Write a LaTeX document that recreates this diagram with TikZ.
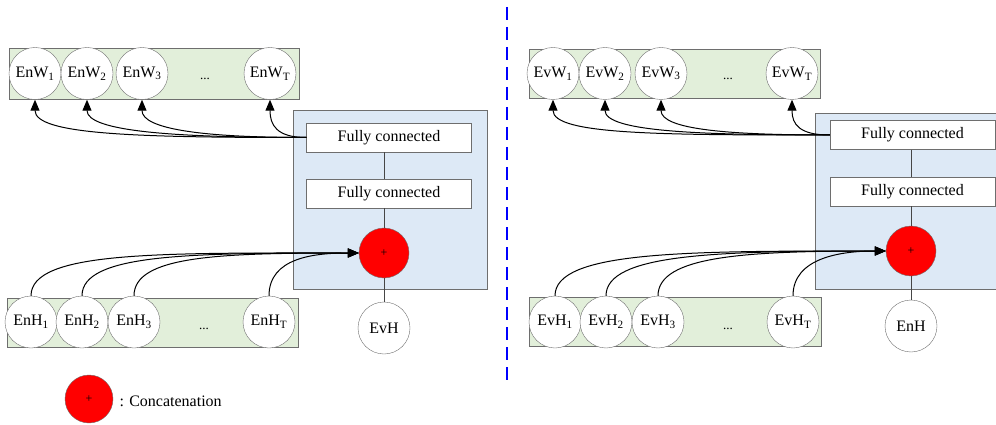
\documentclass[tikz,border=0pt]{standalone}
\usepackage{fontspec}
\setmainfont{Liberation Serif}
\newfontfamily\tnr{Liberation Serif}
\usetikzlibrary{arrows.meta}
\definecolor{bandgreen}{RGB}{226,239,218}
\definecolor{panelblue}{RGB}{221,233,246}
\definecolor{edgegray}{RGB}{110,110,110}
\definecolor{wiregray}{RGB}{70,70,70}

\begin{document}
\begin{tikzpicture}[x=1pt,y=-1pt]
  \tikzset{ v/.style={circle,draw=edgegray,fill=white,inner sep=0pt,minimum size=52pt,font=\tnr\fontsize{16}{18}\selectfont},
    fc/.style={draw=edgegray,fill=white,inner sep=0pt,minimum width=165pt,minimum height=29pt,font=\tnr\fontsize{16}{18}\selectfont},
    cat/.style={circle,draw=edgegray,fill=red,inner sep=0pt,minimum size=50pt,font=\tnr\fontsize{12}{12}\selectfont},
    band/.style={draw=edgegray,fill=bandgreen},
    panel/.style={draw=edgegray,fill=panelblue},
    gap/.style={anchor=base,font=\tnr\fontsize{13}{14}\selectfont},
    link/.style={-{Triangle[length=11pt,width=9pt]},line width=1pt},
    wire/.style={wiregray,line width=1pt},
  }
  \useasboundingbox (0,0) rectangle (996,425);
  \clip (0,0) rectangle (996,425);

  % left half: encoder side
  \draw[band] (9,48) rectangle (299,99);
  \draw[band] (7,298) rectangle (298,347);
  \draw[panel] (293,110) rectangle (487,289);

  \node[v] (ew1) at (35,73.5) {EnW\textsubscript{1}};
  \node[v] (ew2) at (87,73.5) {EnW\textsubscript{2}};
  \node[v] (ew3) at (142,73.5) {EnW\textsubscript{3}};
  \node[gap] (ewd) at (205,80) {...};
  \node[v] (ewT) at (270,73.5) {EnW\textsubscript{T}};

  \node[v] (eh1) at (31,322) {EnH\textsubscript{1}};
  \node[v] (eh2) at (82,322) {EnH\textsubscript{2}};
  \node[v] (eh3) at (134,322) {EnH\textsubscript{3}};
  \node[gap] (ehd) at (204,329) {...};
  \node[v] (ehT) at (269,322) {EnH\textsubscript{T}};

  \node[fc] (fcA1) at (389,137.5) {Fully connected};
  \node[fc] (fcA2) at (389,193.5) {Fully connected};
  \node[cat] (catA) at (384,253) {+};
  \node[v] (evh) at (384,328) {EvH};

  \draw[wire] (fcA1.south -| catA) -- (fcA2.north -| catA);
  \draw[wire] (fcA2.south -| catA) -- (catA);
  \draw[wire] (catA) -- (evh);

  % fully connected layer out to the word nodes
  \draw[link] (fcA1.west) .. controls +(-170,0) and +(0,35) .. (ew1.south);
  \draw[link] (fcA1.west) .. controls +(-130,0) and +(0,32) .. (ew2.south);
  \draw[link] (fcA1.west) .. controls +(-100,0) and +(0,30) .. (ew3.south);
  \draw[link] (fcA1.west) .. controls +(-30,0) and +(0,25) .. (ewT.south);

  % hidden states into the concatenation
  \draw[link] (eh1.north) .. controls +(0,-45) and +(-200,0) .. (catA.west);
  \draw[link] (eh2.north) .. controls +(0,-42) and +(-170,0) .. (catA.west);
  \draw[link] (eh3.north) .. controls +(0,-40) and +(-140,0) .. (catA.west);
  \draw[link] (ehT.north) .. controls +(0,-38) and +(-45,0) .. (catA.west);

  % legend
  \node[cat,minimum size=48pt] (key) at (89,399) {+};
  \node[anchor=west,font=\tnr\fontsize{16}{18}\selectfont] (keytext) at (116,401) {: Concatenation};

  % divider
  \draw[blue,line width=2.5pt,dash pattern=on 13pt off 7pt] (507,7) -- (507,386);

  % right half: event side
  \draw[band] (529,49) rectangle (820,98);
  \draw[band] (529,297) rectangle (821,346);
  \draw[panel] (815,113) rectangle (1010,289);

  \node[v] (vw1) at (553,73.5) {EvW\textsubscript{1}};
  \node[v] (vw2) at (605,73.5) {EvW\textsubscript{2}};
  \node[v] (vw3) at (661,73.5) {EvW\textsubscript{3}};
  \node[gap] (vwd) at (728,80) {...};
  \node[v] (vwT) at (792,73.5) {EvW\textsubscript{T}};

  \node[v] (vh1) at (555,322) {EvH\textsubscript{1}};
  \node[v] (vh2) at (606,322) {EvH\textsubscript{2}};
  \node[v] (vh3) at (658,322) {EvH\textsubscript{3}};
  \node[gap] (vhd) at (728,329) {...};
  \node[v] (vhT) at (793,322) {EvH\textsubscript{T}};

  \node[fc] (fcB1) at (912.5,135) {Fully connected};
  \node[fc] (fcB2) at (912.5,191.5) {Fully connected};
  \node[cat] (catB) at (911,251) {+};
  \node[v] (enh) at (911,326) {EnH};

  \draw[wire] (fcB1.south -| catB) -- (fcB2.north -| catB);
  \draw[wire] (fcB2.south -| catB) -- (catB);
  \draw[wire] (catB) -- (enh);

  \draw[link] (fcB1.west) .. controls +(-170,0) and +(0,35) .. (vw1.south);
  \draw[link] (fcB1.west) .. controls +(-130,0) and +(0,32) .. (vw2.south);
  \draw[link] (fcB1.west) .. controls +(-100,0) and +(0,30) .. (vw3.south);
  \draw[link] (fcB1.west) .. controls +(-30,0) and +(0,25) .. (vwT.south);

  \draw[link] (vh1.north) .. controls +(0,-45) and +(-200,0) .. (catB.west);
  \draw[link] (vh2.north) .. controls +(0,-42) and +(-170,0) .. (catB.west);
  \draw[link] (vh3.north) .. controls +(0,-40) and +(-140,0) .. (catB.west);
  \draw[link] (vhT.north) .. controls +(0,-38) and +(-45,0) .. (catB.west);
\end{tikzpicture}
\end{document}
